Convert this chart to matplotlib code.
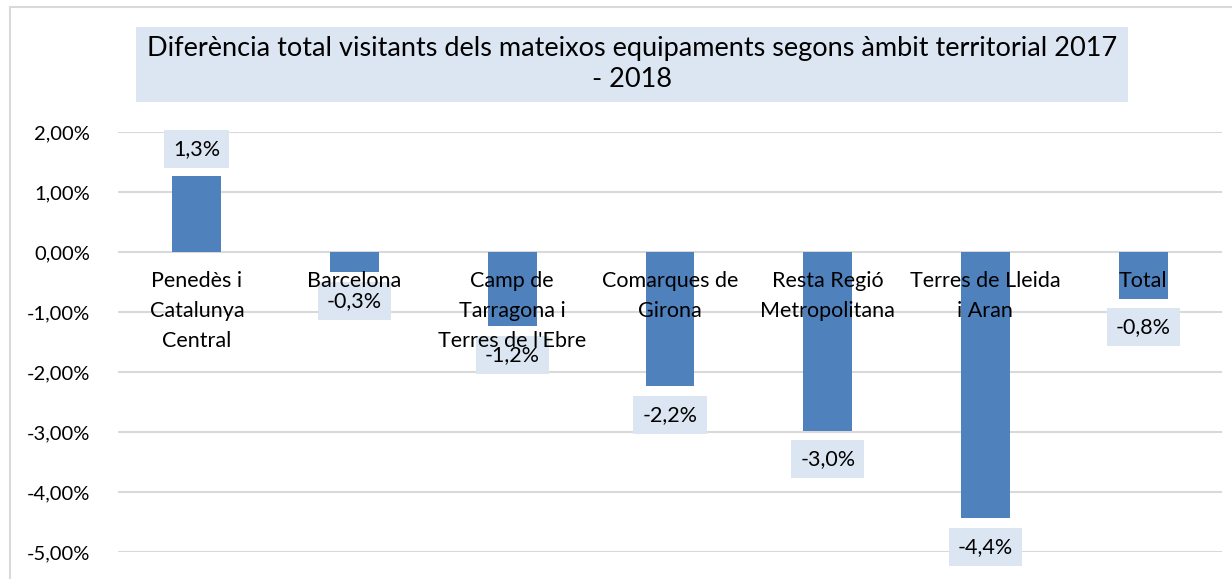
import matplotlib
matplotlib.use("Agg")
import matplotlib.pyplot as plt
from matplotlib.patches import Rectangle

# data (percent)
categories = ["Penedès i\nCatalunya\nCentral", "Barcelona", "Camp de\nTarragona i\nTerres de l'Ebre",
              "Comarques de\nGirona", "Resta Regió\nMetropolitana", "Terres de Lleida\ni Aran", "Total"]
values = [1.26, -0.34, -1.24, -2.24, -2.98, -4.44, -0.78]
yticks = [2, 1, 0, -1, -2, -3, -4, -5]

title = "Diferència total visitants dels mateixos equipaments segons àmbit territorial 2017\n- 2018"

bar_color = "#4F81BD"
box_color = "#DCE6F2"
grid_color = "#D9D9D9"

plt.rcParams['font.family'] = ['Lato', 'DejaVu Sans']

fig = plt.figure(figsize=(12.32, 5.79), dpi=100)
ax = fig.add_axes([118 / 1232, 1 - 552 / 579, (1222 - 118) / 1232, (552 - 132) / 579])

# outer chart frame (only left and top edges visible)
fig.patches.append(Rectangle((10 / 1232, -0.1), 1.2, 1 - 7 / 579 + 0.1, transform=fig.transFigure,
                             facecolor="none", edgecolor=grid_color, linewidth=1.5, zorder=0))

x = list(range(len(categories)))
ax.bar(x, values, width=0.31, color=bar_color, zorder=2)

ax.set_xlim(-0.5, len(categories) - 0.5)
ax.set_ylim(-5, 2)
ax.set_yticks(yticks)
ax.set_yticklabels([("%.2f%%" % v).replace(".", ",") for v in yticks], fontsize=14.5)
ax.set_xticks([])
ax.tick_params(axis="y", length=0, pad=20)
for s in ax.spines.values():
    s.set_visible(False)
ax.grid(axis="y", color=grid_color, linewidth=1.5, zorder=0)
ax.set_axisbelow(True)

# data labels
for xi, v in zip(x, values):
    label = ("%.1f%%" % v).replace(".", ",")
    off = 20 if v > 0 else -20.5
    ax.annotate(label, (xi, v), xytext=(0, off), textcoords="offset points",
                ha="center", va="center", fontsize=15.5, zorder=4, annotation_clip=False,
                bbox=dict(boxstyle="square,pad=0.42", facecolor=box_color, edgecolor="none"))

# category labels next to the zero line
for xi, c in zip(x, categories):
    ax.annotate(c, (xi, 0), xytext=(0, -14), textcoords="offset points",
                ha="center", va="top", fontsize=15.5, linespacing=1.62, zorder=5)

# title in a shaded box
fig.patches.append(Rectangle((136 / 1232, 1 - 102 / 579), (1128 - 136) / 1232, 75 / 579,
                             transform=fig.transFigure, facecolor=box_color, edgecolor="none", zorder=1))
fig.text(632 / 1232, 1 - 64 / 579, title, ha="center", va="center", fontsize=19.5,
         linespacing=1.3, zorder=2)

fig.savefig("out.png", dpi=100)
